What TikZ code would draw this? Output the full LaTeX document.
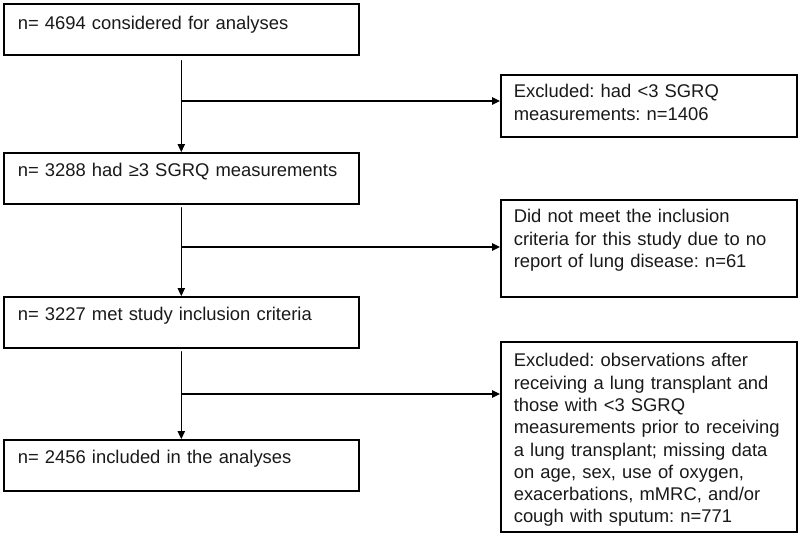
\documentclass[tikz,border=0pt]{standalone}
\usepackage{fontspec}
\setmainfont{Liberation Sans}
\usetikzlibrary{arrows.meta}
\frenchspacing

\begin{document}
\begin{tikzpicture}[line cap=round,>={Triangle[length=8pt,width=7.5pt]},x=1pt,y=-1pt,
  box/.style={draw, line width=1.6pt, anchor=north west, align=left, inner xsep=14pt, inner ysep=0pt,
    font=\fontsize{18.4pt}{22.3pt}\selectfont, text=black!90},
  leftbox/.style={box, text width=327pt, text height=24pt, text depth=27pt},
  rightbox/.style={box, inner xsep=13pt, text width=270pt},
  link/.style={line width=1.1pt}]
		\useasboundingbox (0,0) rectangle (799,546);
		% main column
		\node[leftbox, text height=26pt, text depth=25pt] (start) at (3,3) {n= 4694 considered for analyses};
		\node[leftbox] (sgrq) at (3,152) {n= 3288 had ≥3 SGRQ measurements};
		\node[leftbox] (incl) at (3,296) {n= 3227 met study inclusion criteria};
		\node[leftbox] (final) at (3,439) {n= 2456 included in the analyses};
		% exclusions
		\node[rightbox, text height=23pt, text depth=39pt] (excl1) at (500,74)
		  {Excluded: had <3 SGRQ\\measurements: n=1406};
		\node[rightbox, text height=23pt, text depth=74pt] (excl2) at (500,199)
		  {Did not meet the inclusion\\criteria for this study due to no\\report of lung disease: n=61};
		\node[rightbox, text height=25pt, text depth=165pt] (excl3) at (500,341)
		  {Excluded: observations after\\receiving a lung transplant and\\those with <3 SGRQ\\measurements prior to receiving\\a lung transplant; missing data\\on age, sex, use of oxygen,\\exacerbations, mMRC, and/or\\cough with sputum: n=771};
		% arrows down
		\draw[link,->] ([yshift=-5pt]start.south) -- (sgrq.north);
		\draw[link,->] ([yshift=-3pt]sgrq.south) -- (incl.north);
		\draw[link,->] ([yshift=-3pt]incl.south) -- (final.north);
		% arrows to the side
		\coordinate (b1) at (182,101);
		\coordinate (b2) at (182,247);
		\coordinate (b3) at (182,394);
		\draw[link,->] (b1) -- (b1 -| excl1.west);
		\draw[link,->] (b2) -- (b2 -| excl2.west);
		\draw[link,->] (b3) -- (b3 -| excl3.west);
\end{tikzpicture}
\end{document}
